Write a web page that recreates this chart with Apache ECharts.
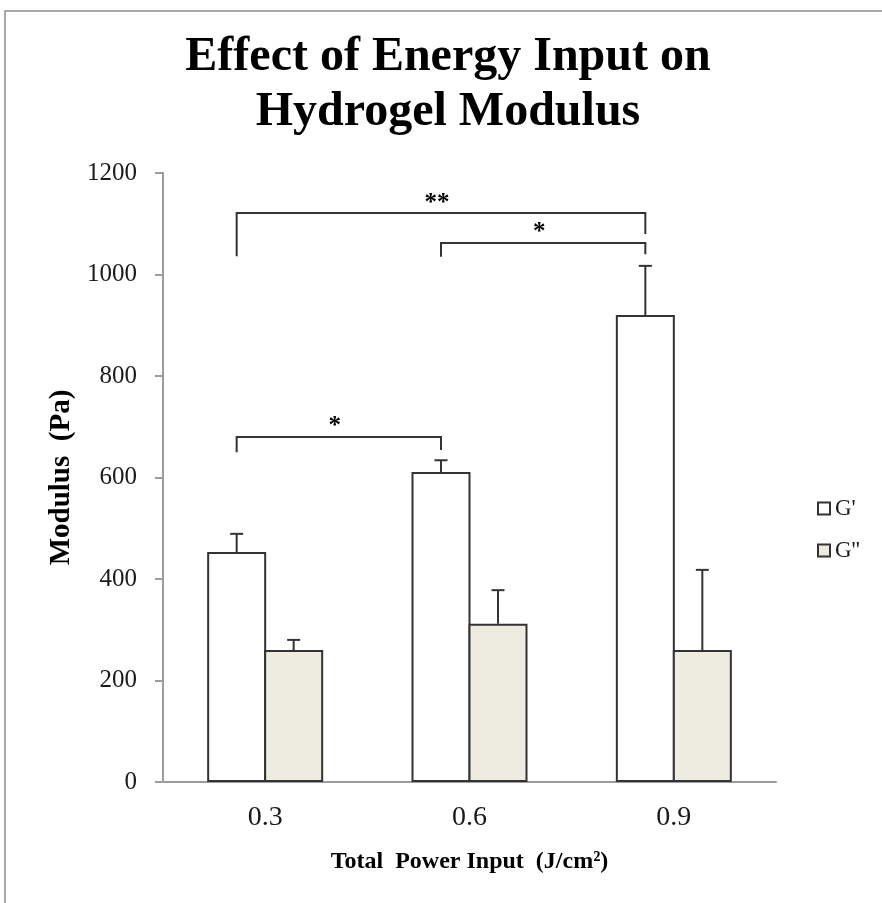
<!DOCTYPE html>
<html>
<head>
<meta charset="utf-8">
<script src="https://cdn.jsdelivr.net/npm/echarts@6/dist/echarts.min.js"></script>
<style>
  html, body { margin: 0; padding: 0; background: #ffffff; }
  #chart { width: 882px; height: 903px; }
</style>
</head>
<body>
<div id="chart"></div>
<script>
// Chart values
const categories = ["0.3", "0.6", "0.9"];
const seriesNames = ["G'", "G''"];
const gPrime = [453, 611, 920];
const gPrimeErr = [36, 23, 97];
const gDouble = [260, 312, 260];
const gDoubleErr = [20, 66, 158];
const yTicks = { min: 0, max: 1200, interval: 200 };

// Significance brackets: [from category, to category, top, left leg end, right leg end]
const brackets = [
  [0, 2, 1121, 1036, 1080],
  [1, 2, 1062, 1035, 1040],
  [0, 1, 680, 650, 654]
];
const bracketLabels = ["**", "*", "*"];

const serif = '"Liberation Serif", "Times New Roman", serif';
const edge = "#333333";
const axisGray = "#9c9c9c";
const BAR_W = 59;
const BAR_GAP = -2; // bars share their middle border

const chart = echarts.init(document.getElementById("chart"));

// error bar drawn on top of one of the two bars in a category
function errorBars(offsetSign) {
  return function (params, api) {
    const idx = api.value(0);
    const top = api.coord([idx, api.value(1) + api.value(2)]);
    const base = api.coord([idx, api.value(1)]);
    const x = base[0] + offsetSign * (BAR_W + BAR_GAP) / 2;
    const style = { stroke: edge, lineWidth: 2 };
    return {
      type: "group",
      children: [
        { type: "line", shape: { x1: x, y1: base[1], x2: x, y2: top[1] }, style },
        { type: "line", shape: { x1: x - 6.5, y1: top[1], x2: x + 6.5, y2: top[1] }, style }
      ]
    };
  };
}

function bracketItem(params, api) {
  const a = api.coord([api.value(0), api.value(2)]);
  const b = api.coord([api.value(1), api.value(2)]);
  const half = (BAR_W + BAR_GAP) / 2;
  const xa = a[0] - half;
  const xb = b[0] - half;
  const yl = api.coord([api.value(0), api.value(3)])[1];
  const yr = api.coord([api.value(1), api.value(4)])[1];
  const y = a[1];
  const style = { stroke: edge, lineWidth: 2, fill: "none" };
  return {
    type: "group",
    children: [
      { type: "polyline", shape: { points: [[xa, yl], [xa, y], [xb, y], [xb, yr]] }, style },
      {
        type: "text",
        x: (xa + xb) / 2 - 4,
        y: y - 10,
        style: {
          text: bracketLabels[params.dataIndex],
          font: "bold 25px " + serif,
          fill: "#000",
          align: "center",
          verticalAlign: "middle"
        }
      }
    ]
  };
}

const option = {
  animation: false,
  backgroundColor: "#ffffff",
  graphic: [
    {
      type: "rect",
      shape: { x: 5, y: 11, width: 920, height: 920 },
      style: { fill: "none", stroke: "#8f8f8f", lineWidth: 1.5 },
      silent: true
    },
    {
      type: "text",
      x: 448,
      y: 30,
      style: {
        text: "Effect of Energy Input on\nHydrogel Modulus",
        font: "bold 48px " + serif,
        lineHeight: 55,
        fill: "#000",
        align: "center"
      }
    }
  ],
  legend: {
    data: seriesNames,
    orient: "vertical",
    left: 812,
    top: 492,
    itemWidth: 12,
    itemHeight: 12,
    itemGap: 19,
    icon: "rect",
    itemStyle: { borderColor: edge, borderWidth: 2 },
    textStyle: { fontFamily: serif, fontSize: 23, color: "#1a1a1a" }
  },
  grid: { left: 163, right: 106, top: 173, bottom: 121 },
  xAxis: {
    type: "category",
    data: categories,
    name: "Total  Power Input  (J/cm²)",
    nameLocation: "middle",
    nameGap: 68,
    nameTextStyle: { fontFamily: serif, fontSize: 24, fontWeight: "bold", color: "#000" },
    axisLine: { lineStyle: { color: axisGray, width: 2 } },
    axisTick: { length: 10, lineStyle: { color: axisGray, width: 2 } },
    axisLabel: { fontFamily: serif, fontSize: 28, color: "#1a1a1a", margin: 22 }
  },
  yAxis: {
    type: "value",
    min: yTicks.min,
    max: yTicks.max,
    interval: yTicks.interval,
    name: "Modulus  (Pa)",
    nameLocation: "middle",
    nameGap: 80,
    nameTextStyle: { fontFamily: serif, fontSize: 29, fontWeight: "bold", color: "#000" },
    axisLine: { show: true, lineStyle: { color: axisGray, width: 2 } },
    axisTick: { show: true, length: 8, lineStyle: { color: axisGray, width: 2 } },
    axisLabel: {
      fontFamily: serif, fontSize: 25, color: "#1a1a1a", margin: 26,
      formatter: (v) => String(v)
    },
    splitLine: { show: false }
  },
  series: [
    {
      name: seriesNames[0],
      type: "bar",
      data: gPrime,
      barWidth: BAR_W,
      barGap: (BAR_GAP / BAR_W * 100).toFixed(1) + "%",
      itemStyle: { color: "#ffffff", borderColor: edge, borderWidth: 2 }
    },
    {
      name: seriesNames[1],
      type: "bar",
      data: gDouble,
      barWidth: BAR_W,
      barGap: (BAR_GAP / BAR_W * 100).toFixed(1) + "%",
      itemStyle: { color: "#eeece1", borderColor: edge, borderWidth: 2 }
    },
    {
      type: "custom",
      renderItem: errorBars(-1),
      data: gPrime.map((v, i) => [i, v, gPrimeErr[i]]),
      encode: { x: 0, y: [1, 2] },
      clip: false,
      z: 3
    },
    {
      type: "custom",
      renderItem: errorBars(1),
      data: gDouble.map((v, i) => [i, v, gDoubleErr[i]]),
      encode: { x: 0, y: [1, 2] },
      clip: false,
      z: 3
    },
    {
      type: "custom",
      renderItem: bracketItem,
      data: brackets,
      encode: { x: [0, 1], y: [2, 3, 4] },
      clip: false,
      z: 4
    }
  ]
};

chart.setOption(option);
</script>
</body>
</html>
